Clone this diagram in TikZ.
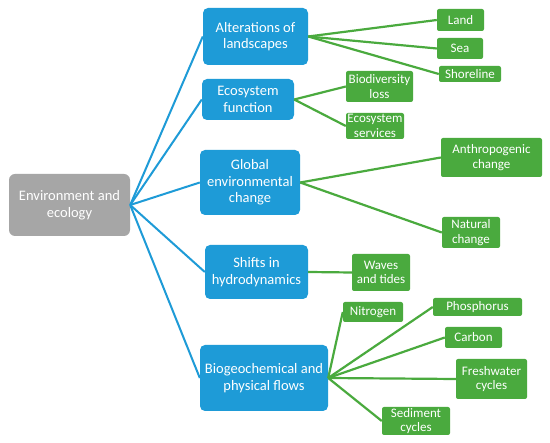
\documentclass[tikz,border=0pt]{standalone}
\usepackage{fontspec}
\setmainfont{Carlito}
\definecolor{bluebox}{RGB}{30,155,215}
\definecolor{greenbox}{RGB}{74,170,62}
\definecolor{graybox}{RGB}{166,166,166}
\tikzset{
  basebox/.style={rounded corners=#1, draw=none, align=center, inner sep=0pt, text=white, anchor=center},
  rootbox/.style={basebox=6pt, fill=graybox, font=\fontsize{14.5}{17}\selectfont},
  bluenode/.style={basebox=5pt, fill=bluebox, font=\fontsize{14.5}{16.5}\selectfont},
  greennode/.style={basebox=2pt, fill=greenbox, font=\fontsize{13}{14.5}\selectfont},
  blueline/.style={draw=bluebox, line width=2pt},
  greenline/.style={draw=greenbox, line width=2.2pt},
}
\begin{document}
\begin{tikzpicture}[x=1pt,y=-1pt]
\useasboundingbox (0,0) rectangle (550,443);
\fill[white] (0,0) rectangle (550,443);
% root
\node[rootbox, minimum width=121pt, minimum height=62pt] (root) at (69.5,205) {Environment and\\ecology};
% blue
\node[bluenode, minimum width=105pt, minimum height=57pt] (alt) at (255.5,36.5) {Alterations of\\landscapes};
\node[bluenode, minimum width=92pt, minimum height=41pt] (eco) at (248,99.5) {Ecosystem\\function};
\node[bluenode, minimum width=100pt, minimum height=65pt] (glob) at (250,182.5) {Global\\environmental\\change};
\node[bluenode, minimum width=103pt, minimum height=54pt] (shift) at (256.5,272) {Shifts in\\hydrodynamics};
\node[bluenode, minimum width=128pt, minimum height=66pt] (bio) at (264,378) {Biogeochemical and\\physical flows};
% green
\node[greennode, minimum width=47pt, minimum height=22pt] (land) at (460.5,20) {Land};
\node[greennode, minimum width=46pt, minimum height=21pt] (sea) at (460,48.5) {Sea};
\node[greennode, minimum width=62pt, minimum height=16pt] (shore) at (470,74) {Shoreline};
\node[greennode, minimum width=67pt, minimum height=31pt] (biodiv) at (379.5,86.5) {Biodiversity\\loss};
\node[greennode, minimum width=58pt, minimum height=26pt] (ecoserv) at (375,126) {Ecosystem\\services};
\node[greennode, minimum width=101pt, minimum height=39pt] (anthro) at (491.5,157.5) {Anthropogenic\\change};
\node[greennode, minimum width=58pt, minimum height=31pt] (natural) at (471,232.5) {Natural\\change};
\node[greennode, minimum width=58pt, minimum height=37pt] (waves) at (381,272.5) {Waves\\and tides};
\node[greennode, minimum width=60pt, minimum height=20pt] (nitro) at (373,312) {Nitrogen};
\node[greennode, minimum width=89pt, minimum height=18pt] (phos) at (477.5,307) {Phosphorus};
\node[greennode, minimum width=57pt, minimum height=21pt] (carbon) at (473.5,337.5) {Carbon};
\node[greennode, minimum width=71pt, minimum height=40pt] (fresh) at (491.5,379) {Freshwater\\cycles};
\node[greennode, minimum width=68pt, minimum height=28pt] (sed) at (416,421) {Sediment\\cycles};
% blue connectors
\foreach \t in {alt,eco,glob,shift,bio} \draw[blueline] (root.east) -- (\t.west);
% green connectors
\foreach \t in {land,sea,shore} \draw[greenline] (alt.east) -- (\t.west);
\foreach \t in {biodiv,ecoserv} \draw[greenline] (eco.east) -- (\t.west);
\foreach \t in {anthro,natural} \draw[greenline] (glob.east) -- (\t.west);
\draw[greenline] (shift.east) -- (waves.west);
\foreach \t in {nitro,phos,carbon,fresh,sed} \draw[greenline] (bio.east) -- (\t.west);
\end{tikzpicture}
\end{document}
